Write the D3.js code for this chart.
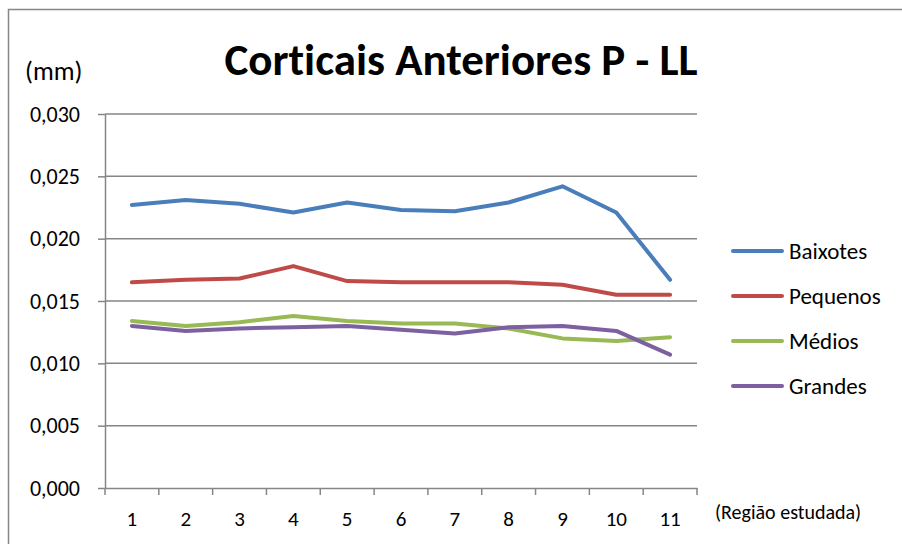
<html lang="en">
<head>
    <meta charset="UTF-8">
    <title>Corticais Anteriores P - LL</title>
    <style>
        body { margin: 0; background: #fff; }
        text { font-family: Carlito, Lato, "Open Sans", sans-serif; fill: #000; font-variant-ligatures: none; }
    </style>
</head>
<body>
    <div id="graph"></div>
    <script src="https://d3js.org/d3.v7.min.js"></script>
    <script>
        // data
        var regions = ["1", "2", "3", "4", "5", "6", "7", "8", "9", "10", "11"];
        var yTicks = [0, 0.005, 0.010, 0.015, 0.020, 0.025, 0.030];
        var seriesNames = ["Baixotes", "Pequenos", "Médios", "Grandes"];
        var seriesColors = ["#4a7ebb", "#be4b48", "#98b954", "#7d60a0"];
        var baixotes = [0.0227, 0.0231, 0.0228, 0.0221, 0.0229, 0.0223, 0.0222, 0.0229, 0.0242, 0.0221, 0.0167];
        var pequenos = [0.0165, 0.0167, 0.0168, 0.0178, 0.0166, 0.0165, 0.0165, 0.0165, 0.0163, 0.0155, 0.0155];
        var medios = [0.0134, 0.0130, 0.0133, 0.0138, 0.0134, 0.0132, 0.0132, 0.0128, 0.0120, 0.0118, 0.0121];
        var grandes = [0.0130, 0.0126, 0.0128, 0.0129, 0.0130, 0.0127, 0.0124, 0.0129, 0.0130, 0.0126, 0.0107];
        var seriesValues = [baixotes, pequenos, medios, grandes];

        var W = 902, H = 544;
        var plotLeft = 105, plotRight = 697, plotTop = 114, plotBottom = 488;

        var svg = d3.select("#graph").append("svg")
            .attr("width", W)
            .attr("height", H);

        // frame (only left and top edges show)
        svg.append("path")
            .attr("d", "M8.5," + H + "V9.5H" + W)
            .attr("fill", "none")
            .attr("stroke", "#868686")
            .attr("stroke-width", 1.5);

        // scales
        var x = d3.scaleBand().domain(regions).range([plotLeft, plotRight]);
        var y = d3.scaleLinear().domain([0, 0.030]).range([plotBottom, plotTop]);

        // gridlines
        svg.append("g").selectAll("line")
            .data(yTicks.slice(1))
            .enter().append("line")
            .attr("x1", plotLeft).attr("x2", plotRight)
            .attr("y1", function(d) { return y(d); })
            .attr("y2", function(d) { return y(d); })
            .attr("stroke", "#868686")
            .attr("stroke-width", 1.5);

        // y axis
        var yAxis = svg.append("g")
            .attr("transform", "translate(" + plotLeft + ",0)")
            .call(d3.axisLeft(y).tickValues(yTicks).tickSize(7).tickSizeOuter(0).tickPadding(18)
                .tickFormat(function(d) { return d3.format(".3f")(d).replace(".", ","); }));
        yAxis.select(".domain").attr("stroke", "#868686").attr("stroke-width", 1.5);
        yAxis.selectAll(".tick line").attr("stroke", "#868686").attr("stroke-width", 1.5);
        yAxis.selectAll("text").attr("font-size", 22).attr("font-family", null).attr("fill", "#000");

        // x axis
        var xAxis = svg.append("g")
            .attr("transform", "translate(0," + plotBottom + ")")
            .call(d3.axisBottom(x).tickSize(0).tickSizeOuter(0).tickPadding(23));
        xAxis.select(".domain").attr("stroke", "#868686").attr("stroke-width", 1.5);
        xAxis.selectAll("text").attr("font-size", 21).attr("font-family", null).attr("fill", "#000");
        xAxis.selectAll(".bound")
            .data(regions.concat(["end"]))
            .enter().append("line")
            .attr("class", "bound")
            .attr("x1", function(d, i) { return plotLeft + i * x.step(); })
            .attr("x2", function(d, i) { return plotLeft + i * x.step(); })
            .attr("y1", 0).attr("y2", 7)
            .attr("stroke", "#868686")
            .attr("stroke-width", 1.5);

        // lines
        var line = d3.line()
            .x(function(d, i) { return x(regions[i]) + x.bandwidth() / 2; })
            .y(function(d) { return y(d); });

        svg.append("g").selectAll("path")
            .data(seriesValues)
            .enter().append("path")
            .attr("d", line)
            .attr("fill", "none")
            .attr("stroke", function(d, i) { return seriesColors[i]; })
            .attr("stroke-width", 4)
            .attr("stroke-linecap", "round")
            .attr("stroke-linejoin", "round");

        // legend
        var legend = svg.append("g").selectAll("g")
            .data(seriesNames)
            .enter().append("g")
            .attr("transform", function(d, i) { return "translate(733," + (251 + i * 45) + ")"; });
        legend.append("line")
            .attr("x1", 0).attr("x2", 49)
            .attr("stroke", function(d, i) { return seriesColors[i]; })
            .attr("stroke-width", 4)
            .attr("stroke-linecap", "round");
        legend.append("text")
            .attr("x", 56)
            .attr("dy", "0.35em")
            .attr("font-size", 23)
            .text(function(d) { return d; });

        // titles
        svg.append("text")
            .attr("x", 461).attr("y", 75)
            .attr("text-anchor", "middle")
            .attr("font-size", 45)
            .attr("font-weight", "bold")
            .text("Corticais Anteriores P - LL");

        svg.append("text")
            .attr("x", 25).attr("y", 80)
            .attr("font-size", 26)
            .text("(mm)");

        svg.append("text")
            .attr("x", 715).attr("y", 519)
            .attr("font-size", 20)
            .text("(Região estudada)");
    </script>
</body>
</html>
